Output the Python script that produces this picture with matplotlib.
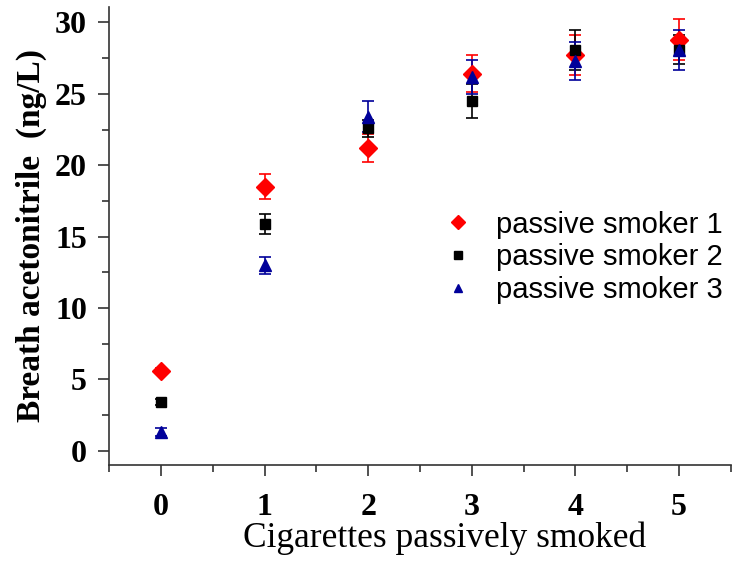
import numpy as np
import matplotlib.pyplot as plt
from matplotlib.ticker import MultipleLocator
from matplotlib.lines import Line2D

# Cigarettes passively smoked
cigs = [0, 1, 2, 3, 4, 5]

# Breath acetonitrile (ng/L) for each passive smoker, with error bars
smoker1 = [5.6, 18.5, 21.2, 26.4, 27.7, 28.8]
smoker1_err = [0.2, 0.9, 1.0, 1.3, 1.4, 1.45]
smoker2 = [3.4, 15.9, 22.6, 24.5, 28.1, 28.1]
smoker2_err = [0.2, 0.7, 0.6, 1.2, 1.4, 1.0]
smoker3 = [1.3, 13.0, 23.4, 26.2, 27.3, 28.1]
smoker3_err = [0.3, 0.6, 1.1, 1.2, 1.35, 1.4]

labels = ['passive smoker 1', 'passive smoker 2', 'passive smoker 3']

fig = plt.figure(figsize=(7.33, 5.63), dpi=100)
ax = fig.add_axes([0.149, 0.174, 0.848, 0.814])

series = [
    (smoker1, smoker1_err, 'D', 'red', 9.5),
    (smoker2, smoker2_err, 's', 'black', 7.5),
    (smoker3, smoker3_err, '^', '#00009a', 9),
]
handles = []
for (vals, errs, mk, col, ms), lab in zip(series, labels):
    ax.errorbar(cigs, vals, yerr=errs, fmt=mk, color=col, ms=ms,
                elinewidth=1.2, capsize=4, capthick=1.2)
    handles.append(Line2D([], [], ls='none', marker=mk, color=col,
                          ms=ms * 0.7, label=lab))

ax.set_xlim(-0.5, 5.5)
ax.set_ylim(-1.0, 31.1)
ax.xaxis.set_major_locator(MultipleLocator(1))
ax.xaxis.set_minor_locator(MultipleLocator(0.5))
ax.yaxis.set_major_locator(MultipleLocator(5))
ax.yaxis.set_minor_locator(MultipleLocator(2.5))

for s in ['top', 'right']:
    ax.spines[s].set_visible(False)
for s in ['left', 'bottom']:
    ax.spines[s].set_linewidth(1.2)
    ax.spines[s].set_color('#333333')

ax.tick_params(which='major', direction='out', length=8, width=1.2, color='#333333')
ax.tick_params(which='minor', direction='out', length=5, width=1.2, color='#333333')
ax.tick_params(axis='y', pad=8)
ax.tick_params(axis='x', pad=12)

for t in ax.get_xticklabels() + ax.get_yticklabels():
    t.set_fontfamily('Liberation Serif')
    t.set_fontweight('bold')
    t.set_fontsize(23)

ax.set_xlabel('Cigarettes passively smoked', fontfamily='Liberation Serif',
              fontsize=25.5, labelpad=0)
ax.xaxis.label.set_x(0.54)
ax.set_ylabel('Breath acetonitrile  (ng/L)', fontfamily='Liberation Serif',
              fontweight='bold', fontsize=24, labelpad=6)

ax.legend(handles=handles, loc='upper left', bbox_to_anchor=(0.538, 0.555),
          frameon=False, prop={'family': 'Liberation Sans', 'size': 21},
          borderpad=0, borderaxespad=0, handletextpad=0.8,
          labelspacing=0.16, handlelength=1.0)

plt.savefig('out.png')
